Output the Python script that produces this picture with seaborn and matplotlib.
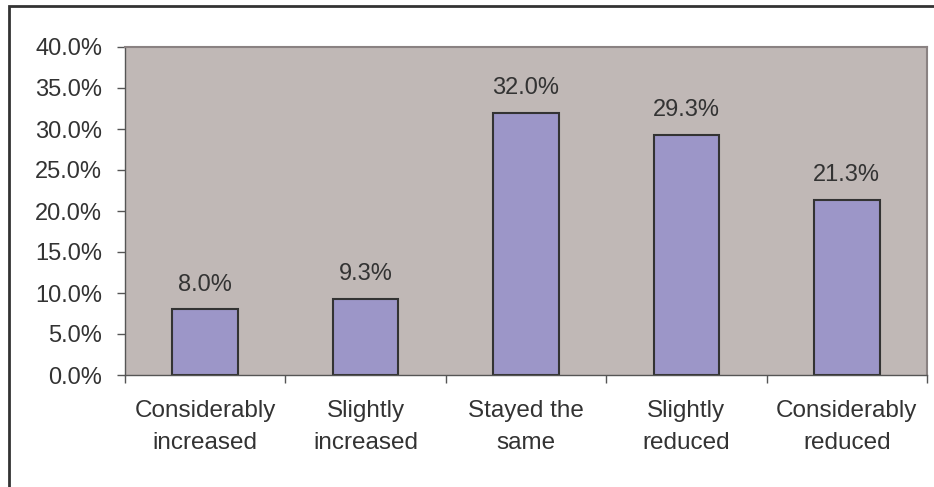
import matplotlib
matplotlib.use("Agg")
import matplotlib.pyplot as plt
import seaborn as sns
import pandas as pd
from matplotlib.patches import Rectangle
from matplotlib.ticker import FixedLocator, FuncFormatter

categories = ["Considerably\nincreased", "Slightly\nincreased", "Stayed the\nsame",
              "Slightly\nreduced", "Considerably\nreduced"]
values = [8.0, 9.3, 32.0, 29.3, 21.3]
value_labels = ["8.0%", "9.3%", "32.0%", "29.3%", "21.3%"]
y_ticks = [0, 5, 10, 15, 20, 25, 30, 35, 40]

sns.set_style("white")
plt.rcParams['font.family'] = ['Liberation Sans', 'DejaVu Sans']

df = pd.DataFrame({"cat": categories, "val": values})

W, H = 934, 487
fig = plt.figure(figsize=(W / 100, H / 100), dpi=100)
ax = fig.add_axes([125 / W, 1 - 375 / H, (927 - 125) / W, (375 - 47) / H])
ax.set_facecolor("#C0B8B6")

sns.barplot(data=df, x="cat", y="val", ax=ax, color="#9C96C8", width=0.41,
            edgecolor="#333333", linewidth=1.5, saturation=1)

ax.set_ylim(0, 40)
ax.set_xlim(-0.5, 4.5)
ax.set_yticks(y_ticks)
ax.yaxis.set_major_formatter(FuncFormatter(lambda v, p: f"{v:.1f}%"))
ax.set_xticks(range(len(categories)))
ax.set_xticklabels(categories, linespacing=1.6)
ax.xaxis.set_minor_locator(FixedLocator([i - 0.5 for i in range(len(categories) + 1)]))
ax.tick_params(axis="x", which="major", length=0, pad=18, labelsize=17.5, colors="#333333")
ax.tick_params(axis="x", which="minor", length=6, width=1, color="#555555", direction="out")
ax.tick_params(axis="y", length=6, width=1, color="#555555", direction="out", labelsize=17,
               labelcolor="#333333", pad=10.5)
ax.tick_params(bottom=True, left=True, which="both")
ax.set_xlabel("")
ax.set_ylabel("")

for s in ["top", "right"]:
    ax.spines[s].set_visible(True)
    ax.spines[s].set_color("#8a8282")
    ax.spines[s].set_linewidth(1.5)
for s in ["left", "bottom"]:
    ax.spines[s].set_color("#555555")
    ax.spines[s].set_linewidth(1)

for i, (v, lab) in enumerate(zip(values, value_labels)):
    ax.text(i, v + 2.3, lab, ha="center", va="baseline", fontsize=17, color="#333333")

fig.patches.append(Rectangle((9 / W, -20 / H), (W + 20) / W, (H + 20 - 6) / H,
                             transform=fig.transFigure, fill=False,
                             edgecolor="#333333", linewidth=2))

fig.savefig("out.png", dpi=100)
